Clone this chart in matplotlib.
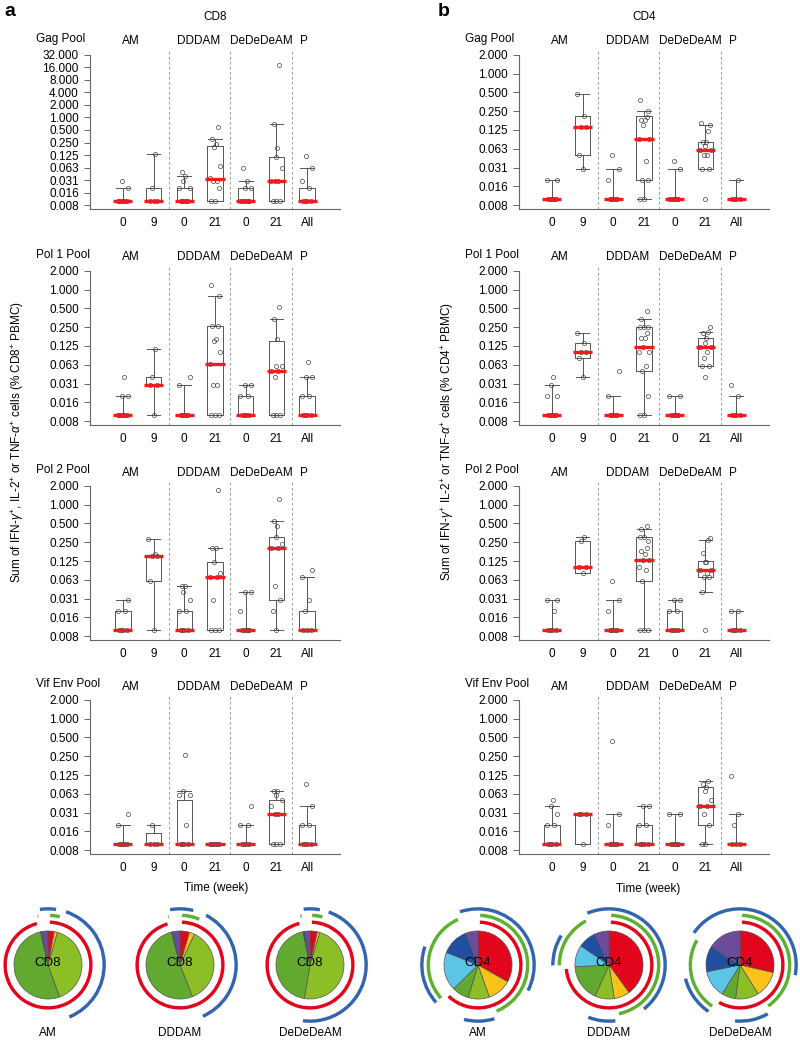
import numpy as np
import matplotlib.pyplot as plt
from matplotlib.patches import Wedge
from matplotlib.transforms import blended_transform_factory

plt.rcParams['font.family'] = ['Liberation Sans', 'DejaVu Sans']
plt.rcParams['mathtext.fontset'] = 'custom'
plt.rcParams['mathtext.rm'] = 'Liberation Sans'
plt.rcParams['mathtext.it'] = 'Liberation Sans:italic'

W, H = 800, 1042

# ---- data ----
groups = ['AM', 'DDDAM', 'DeDeDeAM', 'P']
group_x = [1.25, 3.47, 5.5, 6.9]
weeks = ['0', '9', '0', '21', '0', '21', 'All']
pools = ['Gag Pool', 'Pol 1 Pool', 'Pol 2 Pool', 'Vif Env Pool']
ytick_labels = ['0.008', '0.016', '0.031', '0.063', '0.125', '0.250', '0.500',
                '1.000', '2.000', '4.000', '8.000', '16.000', '32.000']

# box stats per group: (whisker low, q1, median, q3, whisker high)
cd8_gag_box = [(0.01, 0.01, 0.01, 0.01, 0.02), (0.01, 0.01, 0.01, 0.02, 0.13),
               (0.01, 0.01, 0.01, 0.02, 0.04), (0.01, 0.01, 0.034, 0.21, 0.30),
               (0.01, 0.01, 0.01, 0.02, 0.03), (0.01, 0.01, 0.03, 0.11, 0.68),
               (0.01, 0.01, 0.01, 0.02, 0.06)]
cd8_gag_pts = [[0.01, 0.01, 0.01, 0.01, 0.01, 0.01, 0.02, 0.03],
               [0.01, 0.01, 0.01, 0.02, 0.13],
               [0.01, 0.01, 0.01, 0.01, 0.01, 0.02, 0.02, 0.03, 0.04, 0.05],
               [0.01, 0.01, 0.02, 0.03, 0.03, 0.035, 0.07, 0.2, 0.23, 0.3, 0.6],
               [0.01, 0.01, 0.01, 0.01, 0.01, 0.01, 0.02, 0.02, 0.03, 0.06],
               [0.01, 0.01, 0.01, 0.03, 0.03, 0.03, 0.06, 0.11, 0.18, 0.68, 18.0],
               [0.01, 0.01, 0.01, 0.01, 0.02, 0.03, 0.06, 0.12]]

cd4_gag_box = [(0.01, 0.01, 0.01, 0.01, 0.02), (0.03, 0.05, 0.14, 0.21, 0.47),
               (0.01, 0.01, 0.01, 0.01, 0.03), (0.01, 0.02, 0.09, 0.21, 0.25),
               (0.01, 0.01, 0.01, 0.01, 0.03), (0.03, 0.03, 0.06, 0.08, 0.15),
               (0.01, 0.01, 0.01, 0.01, 0.02)]
cd4_gag_pts = [[0.01, 0.01, 0.01, 0.01, 0.01, 0.02, 0.02],
               [0.03, 0.05, 0.14, 0.14, 0.21, 0.47],
               [0.01, 0.01, 0.01, 0.01, 0.01, 0.02, 0.03, 0.05],
               [0.01, 0.01, 0.02, 0.02, 0.04, 0.09, 0.09, 0.15, 0.18, 0.18, 0.2, 0.25, 0.38],
               [0.01, 0.01, 0.01, 0.01, 0.01, 0.01, 0.03, 0.04],
               [0.01, 0.03, 0.03, 0.05, 0.05, 0.06, 0.06, 0.07, 0.08, 0.08, 0.12, 0.15, 0.16],
               [0.01, 0.01, 0.01, 0.01, 0.02]]

cd8_pol1_box = [(0.01, 0.01, 0.01, 0.01, 0.02), (0.01, 0.03, 0.03, 0.04, 0.11),
                (0.01, 0.01, 0.01, 0.01, 0.03), (0.01, 0.01, 0.065, 0.26, 0.8),
                (0.01, 0.01, 0.01, 0.02, 0.03), (0.01, 0.01, 0.05, 0.15, 0.34),
                (0.01, 0.01, 0.01, 0.02, 0.04)]
cd8_pol1_pts = [[0.01, 0.01, 0.01, 0.01, 0.01, 0.01, 0.02, 0.02, 0.04],
                [0.01, 0.03, 0.03, 0.04, 0.11],
                [0.01, 0.01, 0.01, 0.01, 0.01, 0.03, 0.04],
                [0.01, 0.01, 0.01, 0.03, 0.03, 0.065, 0.1, 0.15, 0.16, 0.26, 0.26, 0.8, 1.2],
                [0.01, 0.01, 0.01, 0.01, 0.02, 0.02, 0.03, 0.03],
                [0.01, 0.01, 0.01, 0.04, 0.05, 0.05, 0.06, 0.06, 0.16, 0.34, 0.52],
                [0.01, 0.01, 0.01, 0.01, 0.02, 0.02, 0.04, 0.04, 0.07]]

cd4_pol1_box = [(0.01, 0.01, 0.01, 0.01, 0.03), (0.04, 0.08, 0.1, 0.14, 0.2),
                (0.01, 0.01, 0.01, 0.01, 0.02), (0.01, 0.05, 0.12, 0.25, 0.34),
                (0.01, 0.01, 0.01, 0.01, 0.02), (0.06, 0.06, 0.12, 0.165, 0.21),
                (0.01, 0.01, 0.01, 0.01, 0.02)]
cd4_pol1_pts = [[0.01, 0.01, 0.01, 0.01, 0.01, 0.02, 0.02, 0.03, 0.04],
                [0.04, 0.08, 0.1, 0.1, 0.14, 0.2],
                [0.01, 0.01, 0.01, 0.01, 0.01, 0.02, 0.05],
                [0.01, 0.01, 0.02, 0.05, 0.06, 0.1, 0.1, 0.12, 0.17, 0.17, 0.2, 0.25, 0.25, 0.25, 0.34, 0.45],
                [0.01, 0.01, 0.01, 0.01, 0.01, 0.02, 0.02],
                [0.04, 0.06, 0.06, 0.08, 0.1, 0.12, 0.12, 0.14, 0.17, 0.2, 0.21, 0.25],
                [0.01, 0.01, 0.01, 0.01, 0.02, 0.03]]

cd8_pol2_box = [(0.01, 0.01, 0.01, 0.02, 0.03), (0.01, 0.06, 0.15, 0.15, 0.28),
                (0.01, 0.01, 0.01, 0.02, 0.05), (0.01, 0.01, 0.07, 0.12, 0.2),
                (0.01, 0.01, 0.01, 0.01, 0.04), (0.01, 0.03, 0.2, 0.3, 0.55),
                (0.01, 0.01, 0.01, 0.02, 0.07)]
cd8_pol2_pts = [[0.01, 0.01, 0.01, 0.01, 0.02, 0.02, 0.03],
                [0.01, 0.06, 0.15, 0.15, 0.16, 0.28],
                [0.01, 0.01, 0.01, 0.01, 0.02, 0.02, 0.03, 0.04, 0.05, 0.05],
                [0.01, 0.01, 0.01, 0.03, 0.07, 0.07, 0.08, 0.12, 0.2, 0.2, 1.7],
                [0.01, 0.01, 0.01, 0.01, 0.01, 0.02, 0.04, 0.04],
                [0.01, 0.02, 0.03, 0.05, 0.2, 0.2, 0.23, 0.3, 0.45, 0.55, 1.25],
                [0.01, 0.01, 0.01, 0.02, 0.03, 0.07, 0.09]]

cd4_pol2_box = [(0.01, 0.01, 0.01, 0.01, 0.03), (0.08, 0.08, 0.1, 0.26, 0.3),
                (0.01, 0.01, 0.01, 0.01, 0.03), (0.01, 0.06, 0.13, 0.3, 0.4),
                (0.01, 0.01, 0.01, 0.02, 0.03), (0.04, 0.07, 0.09, 0.125, 0.27),
                (0.01, 0.01, 0.01, 0.01, 0.02)]
cd4_pol2_pts = [[0.01, 0.01, 0.01, 0.01, 0.02, 0.03, 0.03],
                [0.08, 0.1, 0.1, 0.26, 0.3],
                [0.01, 0.01, 0.01, 0.01, 0.01, 0.02, 0.03, 0.06],
                [0.01, 0.01, 0.01, 0.06, 0.09, 0.1, 0.13, 0.13, 0.16, 0.18, 0.2, 0.26, 0.3, 0.3, 0.4, 0.45],
                [0.01, 0.01, 0.01, 0.01, 0.02, 0.02, 0.03, 0.03],
                [0.01, 0.04, 0.07, 0.07, 0.08, 0.09, 0.09, 0.12, 0.12, 0.165, 0.27, 0.29],
                [0.01, 0.01, 0.01, 0.01, 0.02, 0.02]]

cd8_vif_box = [(0.01, 0.01, 0.01, 0.01, 0.02), (0.01, 0.01, 0.01, 0.015, 0.02),
               (0.01, 0.01, 0.01, 0.05, 0.07), (0.01, 0.01, 0.01, 0.01, 0.01),
               (0.01, 0.01, 0.01, 0.01, 0.02), (0.01, 0.01, 0.03, 0.05, 0.07),
               (0.01, 0.01, 0.01, 0.02, 0.04)]
cd8_vif_pts = [[0.01, 0.01, 0.01, 0.01, 0.01, 0.02, 0.03],
               [0.01, 0.01, 0.01, 0.02],
               [0.01, 0.01, 0.01, 0.01, 0.02, 0.06, 0.06, 0.07, 0.26],
               [0.01, 0.01, 0.01, 0.01, 0.01, 0.01],
               [0.01, 0.01, 0.01, 0.01, 0.02, 0.02, 0.04],
               [0.01, 0.01, 0.01, 0.03, 0.03, 0.04, 0.05, 0.06, 0.07, 0.07],
               [0.01, 0.01, 0.01, 0.01, 0.02, 0.02, 0.04, 0.09]]

cd4_vif_box = [(0.01, 0.01, 0.01, 0.02, 0.04), (0.01, 0.01, 0.03, 0.03, 0.03),
               (0.01, 0.01, 0.01, 0.01, 0.03), (0.01, 0.01, 0.01, 0.02, 0.04),
               (0.01, 0.01, 0.01, 0.01, 0.03), (0.01, 0.02, 0.04, 0.08, 0.1),
               (0.01, 0.01, 0.01, 0.01, 0.03)]
cd4_vif_pts = [[0.01, 0.01, 0.01, 0.01, 0.02, 0.02, 0.03, 0.04, 0.05],
               [0.01, 0.03, 0.03, 0.03],
               [0.01, 0.01, 0.01, 0.01, 0.01, 0.02, 0.03, 0.43],
               [0.01, 0.01, 0.01, 0.01, 0.02, 0.02, 0.04, 0.04],
               [0.01, 0.01, 0.01, 0.01, 0.01, 0.03, 0.03],
               [0.01, 0.01, 0.02, 0.03, 0.04, 0.04, 0.05, 0.07, 0.08, 0.09, 0.1],
               [0.01, 0.01, 0.01, 0.02, 0.03, 0.12]]

# SPICE pie fractions (order: +++, ++-, +-+, +--, -++, -+-, --+)
pie_labels = ['AM', 'DDDAM', 'DeDeDeAM']
cd8_am = [0.03, 0.015, 0.40, 0.52, 0.0, 0.005, 0.03]
cd8_dddam = [0.045, 0.025, 0.37, 0.52, 0.0, 0.005, 0.035]
cd8_dedede = [0.035, 0.012, 0.48, 0.44, 0.0, 0.008, 0.025]
cd4_am = [0.332, 0.114, 0.101, 0.08, 0.183, 0.131, 0.059]
cd4_dddam = [0.40, 0.075, 0.092, 0.175, 0.103, 0.085, 0.07]
cd4_dedede = [0.286, 0.125, 0.11, 0.067, 0.13, 0.122, 0.16]
ring_red = [1, 1, 1, 1, 0, 0, 0]
ring_green = [1, 1, 0, 0, 1, 1, 0]
ring_blue = [1, 0, 1, 0, 1, 0, 1]

slice_colors = ['#e3051b', '#fbc21a', '#8bbf25', '#62a92f', '#5bc5e8', '#1f4f9e', '#6b4c9a']
ring_colors = ['#e3051b', '#5db030', '#3265b0']

fig = plt.figure(figsize=(W / 100, H / 100), dpi=100)


def px_axes(x0, ytop, w, h):
    return fig.add_axes([x0 / W, 1 - (ytop + h) / H, w / W, h / H])


def ftext(x, y, s, **kw):
    fig.text(x / W, 1 - y / H, s, **kw)


jit = np.array([0, -0.12, 0.12, -0.06, 0.06, -0.17, 0.17, -0.03, 0.03, -0.09, 0.09, 0.14, -0.14, 0.0, -0.1, 0.1])


def box_panel(ax, pts, box, top_exp, pool, show_x=True):
    stats = [dict(whislo=b[0], q1=b[1], med=b[2], q3=b[3], whishi=b[4], fliers=[]) for b in box]
    pos = np.arange(1, 8)
    ax.bxp(stats, positions=pos, widths=0.5, capwidths=0.45, showfliers=False,
           boxprops=dict(color='#555', lw=0.7), whiskerprops=dict(color='#555', lw=0.7, ls='-'),
           capprops=dict(color='#555', lw=0.7), medianprops=dict(visible=False))
    for i, p in enumerate(pts):
        x = pos[i] + jit[np.arange(len(p)) % len(jit)]
        ax.plot(x, p, 'o', ms=3.0, mfc='none', mec='#444', mew=0.5, zorder=4)
    ax.hlines([b[2] for b in box], pos - 0.31, pos + 0.31, color='#ee1c1c', lw=2.4, zorder=5)
    ax.set_yscale('log', base=2)
    pad = 0.3 if top_exp > 1 else 0.2
    ax.set_ylim(2.0 ** (-7 - pad), 2.0 ** (top_exp + pad))
    ax.set_xlim(-0.07, 8.07)
    ticks = 2.0 ** np.arange(-7, top_exp + 1)
    ax.set_yticks(ticks)
    ax.set_yticklabels(ytick_labels[:len(ticks)])
    ax.yaxis.set_minor_locator(plt.NullLocator())
    ax.set_xticks(pos)
    ax.set_xticklabels(weeks if show_x else [])
    ax.tick_params(axis='x', length=0, pad=6, labelsize=8.5)
    ax.tick_params(axis='y', length=4, width=0.7, color='#666', pad=4, labelsize=8.5)
    for s in ['top', 'right']:
        ax.spines[s].set_visible(False)
    ax.spines['left'].set_color('#666')
    ax.spines['bottom'].set_color('#666')
    ax.spines['left'].set_linewidth(0.8)
    ax.spines['bottom'].set_linewidth(0.8)
    ax.spines['left'].set_bounds(2.0 ** (-7 - pad), 2.0 ** top_exp)
    for xv in [2.5, 4.5, 6.5]:
        ax.axvline(xv, color='#888', lw=0.6, ls=(0, (3, 3)))
    tr = blended_transform_factory(ax.transData, ax.transAxes)
    for g, gx in zip(groups, group_x):
        ax.text(gx, 1.0 + 9.5 / 158, g, transform=tr, ha='center', va='center', fontsize=8.5)
    ax.text(-0.216, 1.0 + 12 / 158, pool, transform=ax.transAxes, ha='left', va='center', fontsize=8.5)


row_tops = [51, 267, 482, 696]
left_panels = [(cd8_gag_pts, cd8_gag_box, 5), (cd8_pol1_pts, cd8_pol1_box, 1),
               (cd8_pol2_pts, cd8_pol2_box, 1), (cd8_vif_pts, cd8_vif_box, 1)]
right_panels = [(cd4_gag_pts, cd4_gag_box, 1), (cd4_pol1_pts, cd4_pol1_box, 1),
                (cd4_pol2_pts, cd4_pol2_box, 1), (cd4_vif_pts, cd4_vif_box, 1)]

for r in range(4):
    axl = px_axes(90, row_tops[r], 250, 158)
    box_panel(axl, left_panels[r][0], left_panels[r][1], left_panels[r][2], pools[r])
    axr = px_axes(519, row_tops[r], 250, 158)
    box_panel(axr, right_panels[r][0], right_panels[r][1], right_panels[r][2], pools[r])

# titles and labels
ftext(10, 12, 'a', fontsize=14, fontweight='bold', ha='center', va='center')
ftext(444, 12, 'b', fontsize=14, fontweight='bold', ha='center', va='center')
ftext(215, 17, 'CD8', fontsize=8.5, ha='center', va='center')
ftext(644, 17, 'CD4', fontsize=8.5, ha='center', va='center')
ftext(216, 888, 'Time (week)', fontsize=8.5, ha='center', va='center')
ftext(648, 889, 'Time (week)', fontsize=8.5, ha='center', va='center')
ftext(18, 442, r'Sum of IFN-$\gamma^{+}$, IL-2$^{+}$ or TNF-$\alpha^{+}$ cells (% CD8$^{+}$ PBMC)',
      fontsize=8.5, rotation=90, ha='center', va='center')
ftext(448, 442, r'Sum of IFN-$\gamma^{+}$ IL-2$^{+}$ or TNF-$\alpha^{+}$ cells (% CD4$^{+}$ PBMC)',
      fontsize=8.5, rotation=90, ha='center', va='center')


def arc_runs(fr, mem):
    edges = np.concatenate([[0], np.cumsum(fr)]) * 360
    segs = []
    for i in range(len(fr)):
        if mem[i] and fr[i] > 0:
            if segs and abs(segs[-1][1] - edges[i]) < 1e-6:
                segs[-1][1] = edges[i + 1]
            else:
                segs.append([edges[i], edges[i + 1]])
    if len(segs) > 1 and segs[0][0] == 0 and abs(segs[-1][1] - edges[-1]) < 1e-6:
        segs[0][0] = segs[-1][0] - edges[-1]
        segs.pop()
    return segs


def spice_pie(cx, cy, fr, label, center_text):
    ax = px_axes(cx - 65, cy - 65, 130, 130)
    ax.pie(fr, colors=slice_colors, startangle=90, counterclock=False, radius=1,
           wedgeprops=dict(edgecolor='#555', linewidth=0.5))
    for mem, col, rr in zip([ring_red, ring_green, ring_blue], ring_colors, [1.31, 1.51, 1.70]):
        for a1, a2 in arc_runs(fr, mem):
            g = min(2.5, (a2 - a1) * 0.25)
            ax.add_patch(Wedge((0, 0), rr, 90 - a2 + g, 90 - a1 - g, width=0.1, color=col, lw=0))
    ax.text(0, 0.05, center_text, ha='center', va='center', fontsize=9.5)
    ax.set_xlim(-1.91, 1.91)
    ax.set_ylim(-1.91, 1.91)
    ax.set_aspect('equal')
    ax.axis('off')
    ftext(cx, 1033, label, fontsize=8.5, ha='center', va='center')


for cx, fr, lab in zip([48, 180, 310], [cd8_am, cd8_dddam, cd8_dedede], pie_labels):
    spice_pie(cx, 965, fr, lab, 'CD8')
for cx, fr, lab in zip([478, 609, 740], [cd4_am, cd4_dddam, cd4_dedede], pie_labels):
    spice_pie(cx, 965, fr, lab, 'CD4')

fig.savefig('out.png', dpi=100)
